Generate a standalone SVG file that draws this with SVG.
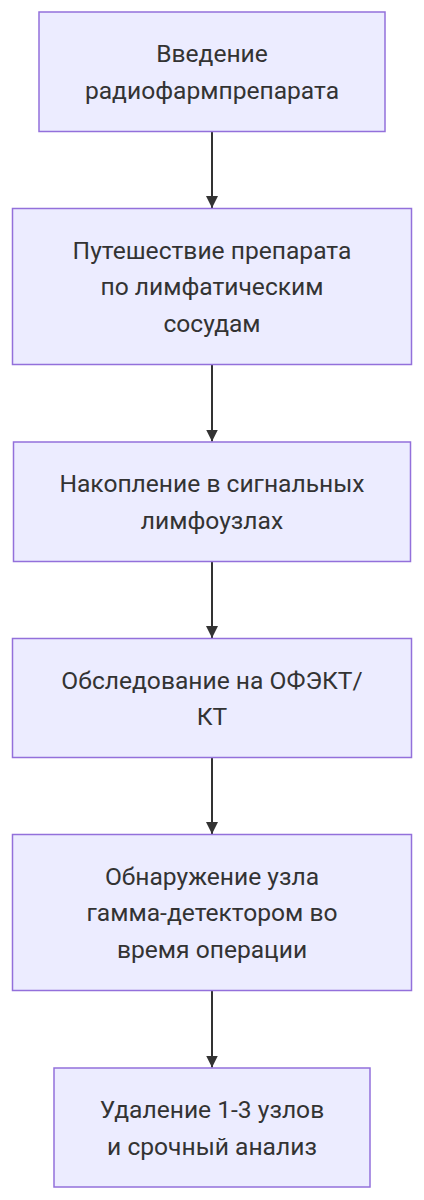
<svg xmlns="http://www.w3.org/2000/svg" width="424" height="1200" viewBox="0 0 424 1200">
<defs>
<style>
.node rect{fill:#ECECFF;stroke:#9370DB;stroke-width:1.5}
.node text{font-family:Roboto,"Liberation Sans",sans-serif;font-size:24.6px;fill:#333;text-anchor:middle}
.edge{stroke:#333;stroke-width:2;fill:none}
</style>
<marker id="arrow" markerUnits="userSpaceOnUse" markerWidth="14" markerHeight="14" viewBox="0 0 14 14" refX="12" refY="7" orient="auto">
<path d="M0,1 L12,7 L0,13 Z" fill="#333"/>
</marker>
</defs>
<rect width="424" height="1200" fill="#ffffff"/>
<g id="connectors">
<path class="edge" d="M212,131.5 L212,208" marker-end="url(#arrow)"/>
<path class="edge" d="M212,364.5 L212,441.5" marker-end="url(#arrow)"/>
<path class="edge" d="M212,561.5 L212,638" marker-end="url(#arrow)"/>
<path class="edge" d="M212,757.5 L212,834" marker-end="url(#arrow)"/>
<path class="edge" d="M212,990.5 L212,1067.5" marker-end="url(#arrow)"/>
</g>
<g id="n1" class="node">
<rect x="39" y="12" width="346" height="119.5"/>
<text x="212" y="62">Введение</text>
<text x="212" y="98.5">радиофармпрепарата</text>
</g>
<g id="n2" class="node">
<rect x="12.5" y="208.5" width="399" height="156"/>
<text x="212" y="258.5">Путешествие препарата</text>
<text x="212" y="295">по лимфатическим</text>
<text x="212" y="331.5">сосудам</text>
</g>
<g id="n3" class="node">
<rect x="13.5" y="442" width="397" height="119.5"/>
<text x="212" y="492">Накопление в сигнальных</text>
<text x="212" y="528.5">лимфоузлах</text>
</g>
<g id="n4" class="node">
<rect x="12.5" y="638.5" width="399" height="119"/>
<text x="212" y="688.5">Обследование на ОФЭКТ/</text>
<text x="212" y="725">КТ</text>
</g>
<g id="n5" class="node">
<rect x="12.5" y="834.5" width="399" height="156"/>
<text x="212" y="884.5">Обнаружение узла</text>
<text x="212" y="921">гамма-детектором во</text>
<text x="212" y="957.5">время операции</text>
</g>
<g id="n6" class="node">
<rect x="54" y="1068" width="316" height="119"/>
<text x="212" y="1118">Удаление 1-3 узлов</text>
<text x="212" y="1154.5">и срочный анализ</text>
</g>
</svg>
